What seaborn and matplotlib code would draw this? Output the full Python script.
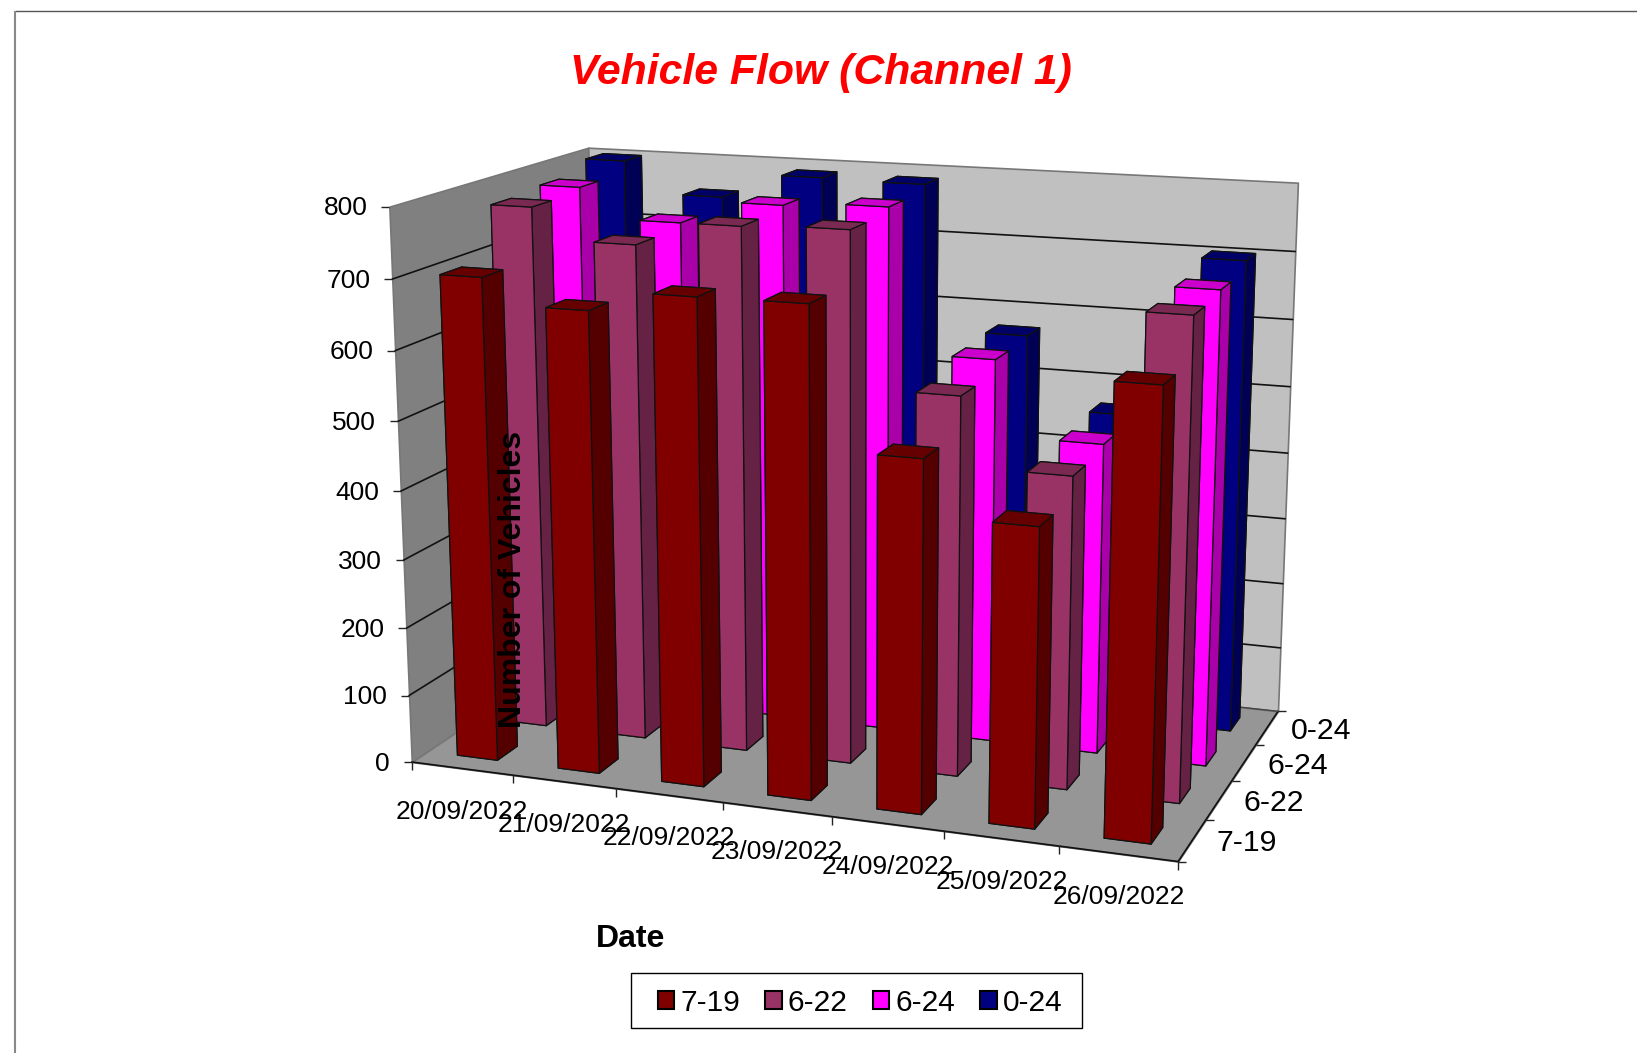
import numpy as np
import matplotlib
matplotlib.use('Agg')
import matplotlib.pyplot as plt
import seaborn as sns
from matplotlib.lines import Line2D
from matplotlib.patches import Patch, Rectangle
from mpl_toolkits.mplot3d import proj3d
from mpl_toolkits.mplot3d.art3d import Poly3DCollection

# data
dates = ['20/09/2022', '21/09/2022', '22/09/2022', '23/09/2022',
         '24/09/2022', '25/09/2022', '26/09/2022']
series = ['7-19', '6-22', '6-24', '0-24']
flow_7_19 = [701, 665, 694, 695, 498, 420, 621]
flow_6_22 = [775, 730, 765, 769, 549, 450, 682]
flow_6_24 = [781, 737, 771, 777, 568, 458, 688]
flow_0_24 = [799, 752, 789, 787, 572, 465, 702]
flows = [flow_7_19, flow_6_22, flow_6_24, flow_0_24]
yticks = [0, 100, 200, 300, 400, 500, 600, 700, 800]

W, H = 1637, 1053

sns.set_theme(style='white')
plt.rcParams['font.family'] = ['Liberation Sans', 'DejaVu Sans']
palette = sns.color_palette(['#800000', '#993366', '#FF00FF', '#000080'])

# camera fitted to the corners of the chart box
ELEV, AZIM, ROLL, FOCAL = 14.0962, -70.2171, 0.0163, 0.5014
BOX, ZOOM = (1.4002, 0.7985, 1), 0.9761
DX, DY = 23.213, -40.6342

fig = plt.figure(figsize=(W / 100, H / 100), dpi=100, facecolor='white')
ax = fig.add_axes([((W - H) / 2 + DX) / W, -DY / H, H / W, 1],
                  projection='3d', computed_zorder=False)
nx, ny, zmax = len(dates), len(series), yticks[-1]
ax.set_xlim(0, nx, view_margin=0)
ax.set_ylim(0, ny, view_margin=0)
ax.set_zlim(0, zmax, view_margin=0)
ax.view_init(ELEV, AZIM, ROLL)
ax.set_proj_type('persp', focal_length=FOCAL)
ax.set_box_aspect(BOX, zoom=ZOOM)
ax.set_axis_off()
ax.apply_aspect()


def to_px(x, y, z):
    X, Y, _ = proj3d.proj_transform(x, y, z, ax.get_proj())
    px, py = ax.transData.transform((X, Y))
    return px, H - py


def fig_line(xs, ys, color='black', lw=1.0):
    fig.add_artist(Line2D([v / W for v in xs], [1 - v / H for v in ys],
                          color=color, lw=lw, solid_capstyle='butt'))


def fig_label(x, y, s, **kw):
    fig.text(x / W, 1 - y / H, s, **kw)


# walls and floor
walls = [
    ([(0, 0, 0), (0, ny, 0), (0, ny, zmax), (0, 0, zmax)], '#808080'),
    ([(0, ny, 0), (nx, ny, 0), (nx, ny, zmax), (0, ny, zmax)], '#C0C0C0'),
    ([(0, 0, 0), (nx, 0, 0), (nx, ny, 0), (0, ny, 0)], '#969696'),
]
for verts, col in walls:
    ax.add_collection3d(Poly3DCollection([verts], facecolors=col, edgecolors='#777777',
                                         linewidths=1.2, zorder=1))

for v in yticks[1:-1]:
    ax.plot([0, 0, nx], [0, ny, ny], [v, v, v], color='#111111', lw=1.2, zorder=2)
ax.plot([0, nx, nx], [0, 0, ny], [0, 0, 0], color='#111111', lw=1.2, zorder=2)
ax.plot([0, nx], [ny, ny], [0, 0], color='#444444', lw=1.0, zorder=2)

# bars, back row first and left to right
order = 10
for j in range(ny - 1, -1, -1):
    base = np.array(palette[j])
    side, top = base * 2 / 3, base * 0.8
    faces = [base, top, base, base, side, side]
    for i in range(nx):
        bar = ax.bar3d(i + 0.3, j + 0.3, 0, 0.4, 0.4, flows[j][i], color=faces,
                       edgecolor='#111111', linewidth=0.9, shade=False)
        bar.set_zorder(order)
        order += 1

# value axis
for v in yticks:
    px, py = to_px(0, 0, v)
    fig_line([px - 8, px], [py, py], '#222222', 1.0)
    fig_label(px - 22, py + 1.5, str(v), ha='right', va='center', fontsize=19, color='black')

# date axis
for i in range(nx + 1):
    px, py = to_px(i, 0, 0)
    fig_line([px, px], [py, py + 8], '#222222', 1.0)
for i, d in enumerate(dates):
    px, py = to_px(i + 0.5, 0, 0)
    fig_label(px, py + 43, d, ha='center', va='center', fontsize=19, color='black')

# series axis
for j in range(ny + 1):
    px, py = to_px(nx, j, 0)
    fig_line([px, px + 8], [py, py], '#222222', 1.0)
for j, s in enumerate(series):
    px, py = to_px(nx, j + 0.5, 0)
    fig_label(px + 24, py + 3, s, ha='left', va='center', fontsize=21.8, color='black')

fig_label(820.6, 73, 'Vehicle Flow (Channel 1)', ha='center', va='center', fontsize=30.8,
          fontweight='bold', fontstyle='italic', color='#FF0000')
fig_label(631, 939, 'Date', ha='center', va='center', fontsize=23, fontweight='bold', color='black')
fig_label(513, 579, 'Number of Vehicles', ha='center', va='center', rotation=90, fontsize=23,
          fontweight='bold', color='black')

handles = [Patch(facecolor=palette[j], edgecolor='black', linewidth=1.5, label=s)
           for j, s in enumerate(series)]
fig.add_artist(Rectangle((630.5 / W, 1 - 1028 / H), 451 / W, 55 / H, transform=fig.transFigure,
                         facecolor='white', edgecolor='black', lw=1.0))
fig.legend(handles=handles, ncol=4, loc='center', bbox_to_anchor=(860 / W, 1 - 1003 / H),
           fontsize=21.5, frameon=False, labelcolor='black',
           handlelength=0.55, handleheight=0.55, handletextpad=0.2, columnspacing=0.85,
           borderpad=0)

# page frame, cut off at the right and bottom of the picture
fig_line([15, W], [11, 11], '#555555', 1.0)
fig_line([15, 15], [11, H], '#888888', 1.5)

fig.savefig('out.png', dpi=100)
